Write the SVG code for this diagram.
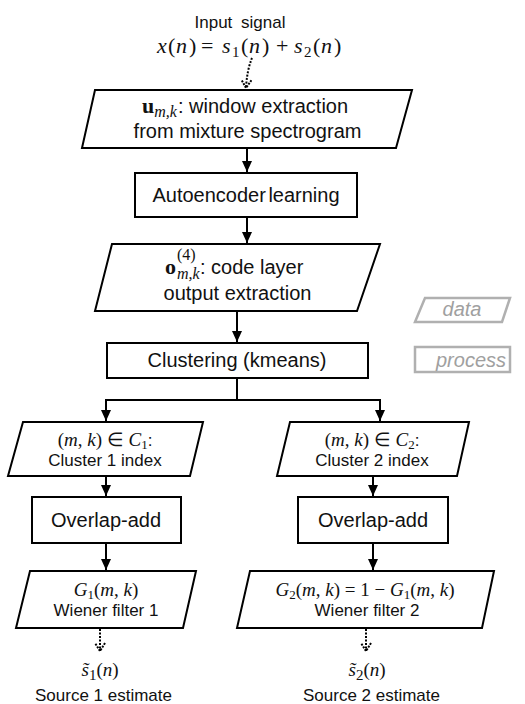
<svg xmlns="http://www.w3.org/2000/svg" width="525" height="704" viewBox="0 0 525 704">
<style>
.box{fill:#fff;stroke:#000;stroke-width:2}
.lg{fill:#fff;stroke:#b0b0b0;stroke-width:2.5}
.t{font-family:"Liberation Sans",Arial,sans-serif;font-size:20px;fill:#111;text-anchor:middle}
.s{font-family:"Liberation Sans",Arial,sans-serif;font-size:17px;fill:#111;text-anchor:middle}
.m{font-family:"Liberation Serif","Times New Roman",serif;font-size:22px;fill:#111}
.ms{font-family:"Liberation Serif","Times New Roman",serif;font-size:19px;fill:#111;text-anchor:middle}
.lt{font-family:"Liberation Sans",Arial,sans-serif;font-size:20px;font-style:italic;fill:#a0a0a0;text-anchor:middle}
.c{fill:none;stroke:#000;stroke-width:2}
.d{fill:none;stroke:#000;stroke-width:2;stroke-dasharray:2 1.5}
</style>
<defs>
<marker id="ah" markerWidth="12" markerHeight="10" refX="11" refY="5" orient="auto" markerUnits="userSpaceOnUse">
<path d="M0,0 L11,5 L0,10 Z" fill="#000"/>
</marker>
<marker id="oh" markerWidth="12" markerHeight="12" refX="10" refY="6" orient="auto" markerUnits="userSpaceOnUse">
<path d="M2,1 L10,6 L2,11" fill="none" stroke="#000" stroke-width="2" stroke-dasharray="2 1.2"/>
</marker>
</defs>

<g id="input">
<text class="s" x="240" y="28" word-spacing="4">Input signal</text>
<text class="m" y="53"><tspan x="157" font-style="italic">x</tspan><tspan x="168">(</tspan><tspan x="176" font-style="italic">n</tspan><tspan x="189">)</tspan><tspan x="201">=</tspan><tspan x="222" font-style="italic">s</tspan><tspan x="232" font-size="15" dy="4">1</tspan><tspan x="241" dy="-4">(</tspan><tspan x="249" font-style="italic">n</tspan><tspan x="262">)</tspan><tspan x="276">+</tspan><tspan x="294" font-style="italic">s</tspan><tspan x="304" font-size="15" dy="4">2</tspan><tspan x="313" dy="-4">(</tspan><tspan x="321" font-style="italic">n</tspan><tspan x="334">)</tspan></text>
</g>

<g id="connectors">
<path class="d" d="M252,58 Q247,70 246,88" marker-end="url(#oh)"/>
<path class="c" d="M247,148 L247,172" marker-end="url(#ah)"/>
<path class="c" d="M247,217 L247,243" marker-end="url(#ah)"/>
<path class="c" d="M237,311 L237,342" marker-end="url(#ah)"/>
<path class="c" d="M237,378 L237,400 L106,400 L106,421" marker-end="url(#ah)"/>
<path class="c" d="M237,400 L380,400 L380,421" marker-end="url(#ah)"/>
<path class="c" d="M106,476 L106,496" marker-end="url(#ah)"/>
<path class="c" d="M373,476 L373,496" marker-end="url(#ah)"/>
<path class="c" d="M106,543 L106,570" marker-end="url(#ah)"/>
<path class="c" d="M373,543 L373,570" marker-end="url(#ah)"/>
<path class="d" d="M100,629 L100,651" marker-end="url(#oh)"/>
<path class="d" d="M366,629 L366,651" marker-end="url(#oh)"/>
</g>

<g id="window">
<polygon class="box" points="95,90 412,90 396,148 82,148"/>
<text class="m" y="113"><tspan x="142" font-weight="bold">u</tspan><tspan font-style="italic" font-size="16" dy="4">m,k</tspan><tspan x="178" dy="-4" font-family="Liberation Sans, Arial, sans-serif" font-size="20">: window extraction</tspan></text>
<text class="t" x="247.5" y="138">from mixture spectrogram</text>
</g>

<g id="autoencoder">
<rect class="box" x="135" y="173" width="222" height="44"/>
<text class="t" x="246" y="202" word-spacing="-3">Autoencoder learning</text>
</g>

<g id="code">
<polygon class="box" points="112,244 380,244 357,311 95,311"/>
<text class="m" y="274"><tspan x="165" font-weight="bold">o</tspan><tspan x="177" y="260" font-size="16">(4)</tspan><tspan x="177" y="279" font-size="16" font-style="italic">m,k</tspan><tspan x="200" y="274" font-family="Liberation Sans, Arial, sans-serif" font-size="20">: code layer</tspan></text>
<text class="t" x="237.5" y="300">output extraction</text>
</g>

<g id="clustering">
<rect class="box" x="107" y="343" width="261" height="35"/>
<text class="t" x="237" y="367">Clustering (kmeans)</text>
</g>

<g id="cluster1">
<polygon class="box" points="23,422 203,422 190,476 8,476"/>
<text class="ms" x="105" y="446">(<tspan font-style="italic">m</tspan>, <tspan font-style="italic">k</tspan>) ∈ <tspan font-style="italic">C</tspan><tspan font-size="13" dy="3">1</tspan><tspan dy="-3" font-family="Liberation Sans, Arial, sans-serif" font-size="17">:</tspan></text>
<text class="s" x="105" y="466">Cluster 1 index</text>
</g>

<g id="cluster2">
<polygon class="box" points="290,422 469,422 457,476 277,476"/>
<text class="ms" x="372" y="446">(<tspan font-style="italic">m</tspan>, <tspan font-style="italic">k</tspan>) ∈ <tspan font-style="italic">C</tspan><tspan font-size="13" dy="3">2</tspan><tspan dy="-3" font-family="Liberation Sans, Arial, sans-serif" font-size="17">:</tspan></text>
<text class="s" x="372" y="466">Cluster 2 index</text>
</g>

<g id="overlap1">
<rect class="box" x="32" y="497" width="149" height="46"/>
<text class="t" x="106" y="527">Overlap-add</text>
</g>

<g id="overlap2">
<rect class="box" x="298" y="497" width="150" height="46"/>
<text class="t" x="373" y="527">Overlap-add</text>
</g>

<g id="wiener1">
<polygon class="box" points="30,571 196,571 183,628 16,628"/>
<text class="ms" x="106" y="596"><tspan font-style="italic">G</tspan><tspan font-size="13" dy="3">1</tspan><tspan dy="-3">(</tspan><tspan font-style="italic">m</tspan>, <tspan font-style="italic">k</tspan>)</text>
<text class="s" x="106" y="616">Wiener filter 1</text>
</g>

<g id="wiener2">
<polygon class="box" points="250,571 494,571 482,628 237,628"/>
<text class="ms" x="365" y="596"><tspan font-style="italic">G</tspan><tspan font-size="13" dy="3">2</tspan><tspan dy="-3">(</tspan><tspan font-style="italic">m</tspan>, <tspan font-style="italic">k</tspan>) = 1 − <tspan font-style="italic">G</tspan><tspan font-size="13" dy="3">1</tspan><tspan dy="-3">(</tspan><tspan font-style="italic">m</tspan>, <tspan font-style="italic">k</tspan>)</text>
<text class="s" x="367" y="616">Wiener filter 2</text>
</g>

<g id="source1">
<text class="ms" x="100" y="676" font-size="23"><tspan font-style="italic">s̃</tspan><tspan font-size="15" dy="4">1</tspan><tspan dy="-4">(</tspan><tspan font-style="italic">n</tspan>)</text>
<text class="s" x="103.5" y="701">Source 1 estimate</text>
</g>

<g id="source2">
<text class="ms" x="367" y="676" font-size="23"><tspan font-style="italic">s̃</tspan><tspan font-size="15" dy="4">2</tspan><tspan dy="-4">(</tspan><tspan font-style="italic">n</tspan>)</text>
<text class="s" x="371.5" y="701">Source 2 estimate</text>
</g>

<g id="legend-data">
<polygon class="lg" points="425,298 510,298 502,322 415,322"/>
<text class="lt" x="462" y="316">data</text>
</g>

<g id="legend-process">
<rect class="lg" x="415" y="347" width="95" height="25"/>
<text class="lt" x="471" y="367">process</text>
</g>
</svg>
